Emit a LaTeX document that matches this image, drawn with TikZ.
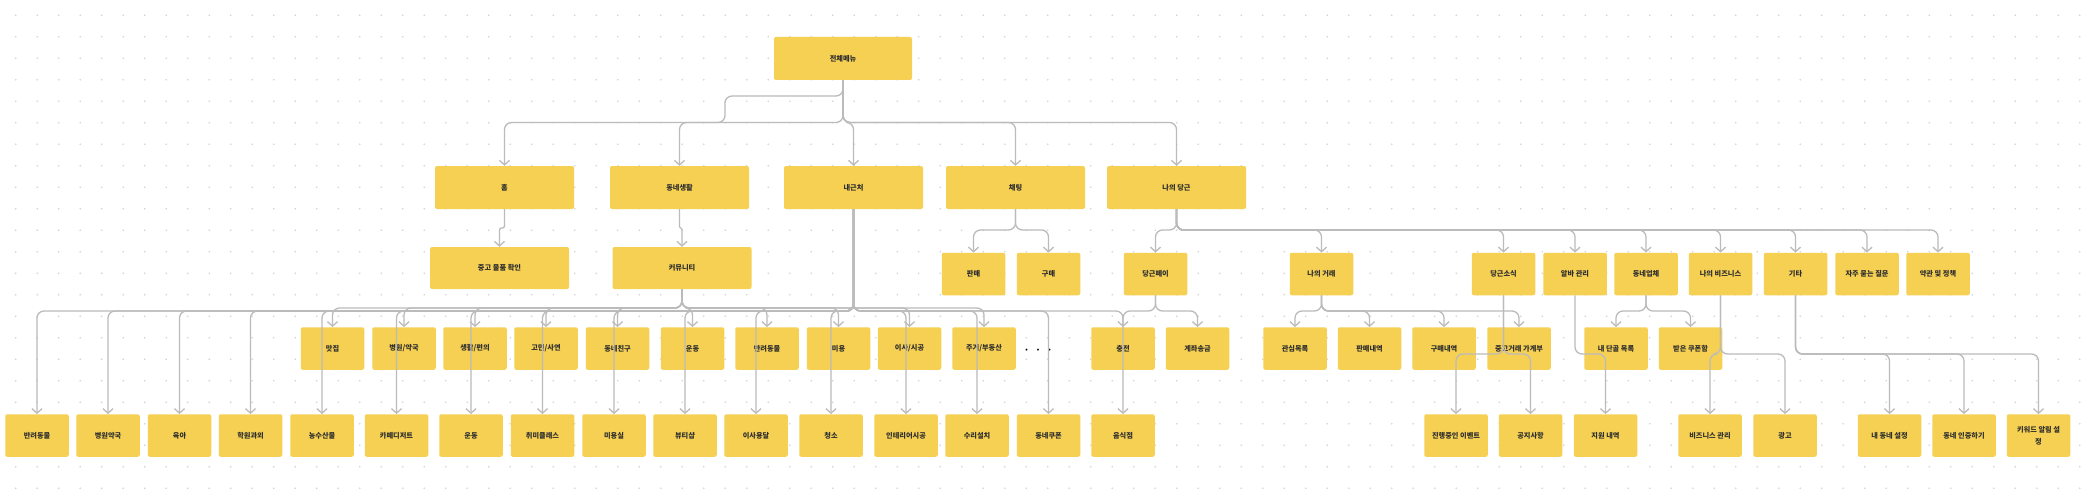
\documentclass[tikz,border=0pt]{standalone}
\usepackage{fontspec}
\setmainfont{Noto Sans CJK KR}
\usetikzlibrary{arrows.meta}
\definecolor{boxc}{HTML}{F6D052}
\definecolor{edgec}{HTML}{BBBBBB}
\definecolor{dotc}{HTML}{D2D2D2}
\definecolor{txtc}{HTML}{2E2E2E}
\tikzset{
 box/.style={fill=boxc, rounded corners=2pt, inner sep=0pt, align=center, text=txtc, font=\fontsize{7.2}{11.7}\selectfont\bfseries},
 bigbox/.style={box, minimum width=139pt, minimum height=43pt},
 smallbox/.style={box, minimum width=63.5pt, minimum height=42.5pt},
 edge/.style={draw=edgec, line width=1.3pt, rounded corners=7pt, -{Straight Barb[length=4.5pt,width=10pt]}},
}
\newcommand\myconn[3]{\draw[edge] (#1.south) -- (#1.south |- 0,#3) -| (#2.north);}
\begin{document}
\begin{tikzpicture}[x=1pt,y=-1pt]
\useasboundingbox (0,0) rectangle (2092,500);
\fill[white] (0,0) rectangle (2092,500);
\foreach \i in {0,...,96} \foreach \j in {0,...,22} \fill[dotc] (15.7+21.5*\i,15.3+21.5*\j) circle (0.9);
% level 0
\node[bigbox, minimum width=138pt] (top) at (843,58.5) {전체메뉴};
% level 1
\node[bigbox] (home) at (504.5,187.5) {홈};
\node[bigbox] (life) at (679.5,187.5) {동네생활};
\node[bigbox] (near) at (853.5,187.5) {내근처};
\node[bigbox] (chat) at (1015.5,187.5) {채팅};
\node[bigbox] (my) at (1176.5,187.5) {나의 당근};
% level 2
\node[bigbox, minimum height=42pt] (used) at (499.5,268) {중고 물품 확인};
\node[bigbox, minimum height=42pt] (comm) at (682,268) {커뮤니티};
\node[smallbox] (sell) at (973.5,274) {판매};
\node[smallbox] (buy) at (1048.5,274) {구매};
\node[smallbox] (pay) at (1155.5,274) {당근페이};
\node[smallbox] (trade) at (1321.5,274) {나의 거래};
\node[smallbox] (news) at (1503.5,274) {당근소식};
\node[smallbox] (alba) at (1575,274) {알바 관리};
\node[smallbox] (store) at (1646,274) {동네업체};
\node[smallbox] (mybiz) at (1720.5,274) {나의 비즈니스};
\node[smallbox] (etc) at (1795.5,274) {기타};
\node[smallbox] (faq) at (1867,274) {자주 묻는 질문};
\node[smallbox] (terms) at (1938,274) {약관 및 정책};
% row B
\node[smallbox] (b1) at (332.5,348.5) {맛집};
\node[smallbox] (b2) at (404,348.5) {병원/약국};
\node[smallbox] (b3) at (475,348.5) {생활/편의};
\node[smallbox] (b4) at (546,348.5) {고민/사연};
\node[smallbox] (b5) at (617.5,348.5) {동네친구};
\node[smallbox] (b6) at (692.5,348.5) {운동};
\node[smallbox] (b7) at (767,348.5) {반려동물};
\node[smallbox] (b8) at (838.5,348.5) {미용};
\node[smallbox] (b9) at (909.5,348.5) {이사/시공};
\node[smallbox] (b10) at (984,348.5) {주거/부동산};
\node[text=black, font=\fontsize{9}{9}\selectfont\bfseries] (more) at (1038,351) {·\hspace{6pt}·\hspace{6pt}·};
\node[smallbox] (charge) at (1123,348.5) {충전};
\node[smallbox] (transfer) at (1197.5,348.5) {계좌송금};
\node[smallbox] (wish) at (1295,348.5) {관심목록};
\node[smallbox] (sold) at (1369.5,348.5) {판매내역};
\node[smallbox] (bought) at (1444,348.5) {구매내역};
\node[smallbox] (ledger) at (1519,348.5) {중고거래 가계부};
\node[smallbox] (regular) at (1616,348.5) {내 단골 목록};
\node[smallbox] (coupons) at (1690.5,348.5) {받은 쿠폰함};
% row C
\node[smallbox] (c1) at (37,435.5) {반려동물};
\node[smallbox] (c2) at (108,435.5) {병원약국};
\node[smallbox] (c3) at (179.5,435.5) {육아};
\node[smallbox] (c4) at (250.5,435.5) {학원과외};
\node[smallbox] (c5) at (322,435.5) {농수산물};
\node[smallbox] (c6) at (396.5,435.5) {카페디저트};
\node[smallbox] (c7) at (471,435.5) {운동};
\node[smallbox] (c8) at (542.5,435.5) {취미클래스};
\node[smallbox] (c9) at (614,435.5) {미용실};
\node[smallbox] (c10) at (685,435.5) {뷰티샵};
\node[smallbox] (c11) at (756,435.5) {이사용달};
\node[smallbox] (c12) at (831,435.5) {청소};
\node[smallbox] (c13) at (906,435.5) {인테리어시공};
\node[smallbox] (c14) at (977,435.5) {수리설치};
\node[smallbox] (c15) at (1048.5,435.5) {동네쿠폰};
\node[smallbox] (c16) at (1123,435.5) {음식점};
\node[smallbox] (event) at (1456,435.5) {진행중인 이벤트};
\node[smallbox] (notice) at (1530.5,435.5) {공지사항};
\node[smallbox] (apply) at (1605.5,435.5) {지원 내역};
\node[smallbox] (bizman) at (1710,435.5) {비즈니스 관리};
\node[smallbox] (ad) at (1785,435.5) {광고};
\node[smallbox] (myarea) at (1889.5,435.5) {내 동네 설정};
\node[smallbox] (verify) at (1964,435.5) {동네 인증하기};
\node[smallbox] (keyword) at (2038.5,435.5) {키워드 알림 설\\정};
% edges
\draw[edge] (top.south) |- (725,96) |- (home.north |- 0,122.5) -- (home.north);
\foreach \c in {life,near,chat,my} {\myconn{top}{\c}{122.5}}
\draw[edge, rounded corners=2pt] (home.south) -- (home.south |- 0,228) -| (used.north);
\draw[edge, rounded corners=1.2pt] (life.south) -- (life.south |- 0,228) -| (comm.north);
\foreach \c in {sell,buy} {\myconn{chat}{\c}{230}}
\foreach \c in {pay,trade,news,alba,store,mybiz,etc,faq,terms} {\myconn{my}{\c}{230}}
\foreach \c in {b1,b2,b3,b4,b5,b6,b7,b8,b9,b10} {\myconn{comm}{\c}{308}}
\foreach \c in {c1,c2,c3,c4,c5,c6,c7,c8,c9,c10,c11,c12,c13,c14,c15,c16} {\myconn{near}{\c}{311}}
\foreach \c in {charge,transfer} {\myconn{pay}{\c}{311}}
\foreach \c in {wish,sold,bought,ledger} {\myconn{trade}{\c}{311}}
\foreach \c in {regular,coupons} {\myconn{store}{\c}{311}}
\foreach \c in {event,notice} {\myconn{news}{\c}{354}}
\myconn{alba}{apply}{354}
\foreach \c in {bizman,ad} {\myconn{mybiz}{\c}{354}}
\foreach \c in {myarea,verify,keyword} {\myconn{etc}{\c}{354}}
\end{tikzpicture}
\end{document}
